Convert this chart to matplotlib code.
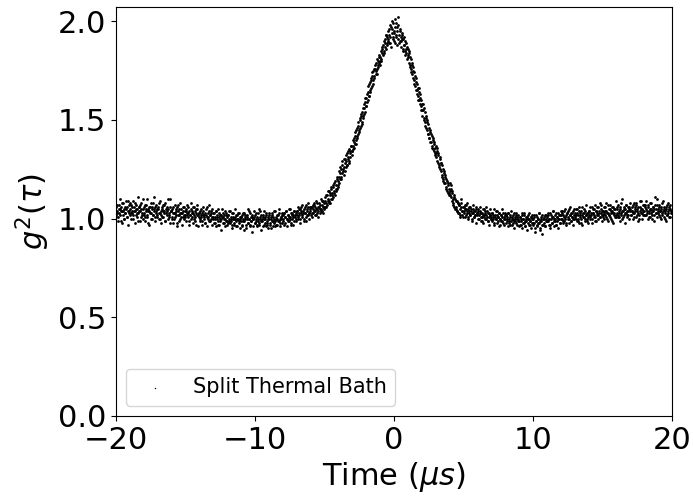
#!/usr/bin/env python3
"""Second-order correlation g2(tau) of a split thermal bath, scatter of measured points."""

import matplotlib
matplotlib.use("Agg")
import matplotlib.pyplot as plt
import numpy as np

T_START = -20.0   # us, first time bin
T_STEP = 0.05     # us, bin width (sweep B sits half a bin later)

# g2 values, in hundredths, one row per microsecond
# --- sweep A: bins at -20.00, -19.95, ... , 20.00
base_left = [
    106, 102, 104, 101, 107, 103, 105, 99, 104, 108, 102, 104, 100, 106, 103, 105, 101, 104, 109, 103,
    105, 102, 107, 103, 104, 100, 106, 104, 108, 102, 105, 103, 99, 106, 104, 107, 101, 105, 103, 110,
    103, 106, 101, 104, 107, 102, 105, 98, 104, 106, 103, 100, 105, 108, 102, 104, 101, 106, 103, 105,
    102, 105, 108, 103, 100, 104, 106, 101, 104, 103, 107, 99, 105, 102, 104, 110, 103, 101, 106, 104,
    104, 101, 103, 106, 100, 103, 105, 102, 98, 104, 107, 102, 103, 100, 105, 103, 101, 106, 102, 104,
    101, 104, 102, 107, 103, 99, 104, 102, 105, 101, 103, 106, 100, 102, 104, 97, 103, 105, 102, 101,
    103, 100, 102, 105, 99, 102, 104, 101, 103, 98, 102, 106, 100, 101, 104, 102, 99, 103, 101, 105,
    100, 103, 98, 101, 104, 100, 102, 97, 101, 103, 99, 102, 100, 105, 101, 98, 102, 100, 103, 99,
    101, 98, 102, 100, 104, 99, 101, 97, 100, 103, 98, 101, 100, 102, 96, 100, 103, 99, 101, 100,
    99, 102, 97, 100, 103, 99, 101, 95, 100, 102, 98, 100, 104, 97, 101, 99, 102, 96, 100, 101,
    102, 99, 100, 97, 103, 100, 98, 101, 104, 99, 100, 96, 102, 100, 98, 101, 103, 99, 97, 100,
    100, 103, 98, 101, 99, 102, 96, 100, 104, 99, 101, 97, 100, 102, 99, 103, 98, 101, 100, 102,
    102, 100, 103, 98, 101, 104, 100, 102, 99, 101, 105, 100, 97, 102, 103, 101, 99, 104, 102, 100,
    102, 104, 101, 105, 103, 100, 104, 106, 102, 103, 99, 105, 103, 107, 101, 104, 102, 106, 103, 105,
    104, 102, 106, 105, 103, 107, 104, 106, 102, 105, 108, 104, 106, 103, 107, 105, 109, 104, 106, 108,
]
rise = [
    105, 111, 108, 106, 112, 109, 114, 108, 113, 110, 116, 112, 111, 117, 113, 119, 115, 114, 121, 116,
    117, 124, 120, 126, 121, 123, 129, 125, 122, 130, 128, 126, 133, 127, 131, 135, 129, 134, 137, 132,
    134, 140, 136, 139, 144, 138, 145, 141, 143, 149, 144, 151, 147, 153, 149, 156, 152, 158, 154, 161,
    157, 163, 160, 167, 162, 169, 165, 171, 167, 174, 170, 176, 172, 178, 175, 173, 181, 177, 183, 179,
    178, 185, 181, 187, 183, 190, 184, 189, 186, 193, 188, 191, 195, 189, 198, 192, 187, 196, 191, 199,
]
fall = [
    194, 189, 201, 192, 197, 188, 202, 193, 190, 196, 187, 194, 191, 185, 192, 188, 183, 189, 186, 181,
    186, 179, 184, 177, 181, 174, 178, 171, 175, 168, 172, 165, 169, 163, 166, 160, 164, 158, 161, 155,
    158, 152, 155, 150, 154, 147, 151, 145, 149, 143, 146, 141, 144, 139, 142, 136, 140, 134, 138, 132,
    137, 131, 134, 128, 133, 126, 130, 124, 128, 121, 125, 119, 123, 118, 121, 115, 119, 113, 117, 112,
    118, 112, 115, 109, 113, 108, 112, 106, 110, 105, 109, 104, 108, 103, 107, 102, 106, 110, 104, 101,
]
base_right = [
    106, 103, 105, 102, 107, 104, 101, 105, 103, 106, 102, 104, 100, 105, 103, 101, 104, 102, 106, 103,
    102, 105, 100, 103, 104, 101, 103, 99, 102, 105, 101, 103, 100, 102, 104, 99, 103, 101, 102, 100,
    101, 103, 100, 102, 98, 101, 104, 100, 102, 99, 101, 103, 100, 97, 102, 101, 99, 103, 100, 102,
    100, 102, 99, 101, 103, 98, 100, 102, 99, 101, 97, 100, 103, 99, 100, 102, 98, 101, 99, 100,
    99, 101, 97, 100, 102, 98, 100, 103, 99, 96, 100, 101, 98, 102, 100, 97, 99, 101, 100, 98,
    100, 98, 102, 95, 99, 101, 97, 100, 103, 98, 94, 100, 99, 102, 97, 100, 101, 96, 99, 102,
    101, 99, 102, 100, 97, 103, 100, 98, 101, 104, 99, 100, 102, 97, 101, 99, 103, 100, 98, 102,
    102, 100, 103, 99, 101, 104, 100, 102, 98, 103, 101, 105, 100, 102, 99, 103, 101, 104, 100, 102,
    103, 100, 102, 105, 99, 102, 104, 101, 103, 98, 102, 106, 101, 103, 100, 104, 102, 99, 103, 101,
    102, 104, 101, 103, 106, 100, 103, 102, 105, 101, 104, 99, 103, 106, 102, 104, 101, 103, 107, 102,
    104, 101, 103, 106, 102, 104, 100, 103, 107, 102, 105, 101, 103, 104, 99, 106, 103, 102, 105, 101,
    103, 106, 102, 104, 101, 105, 108, 103, 100, 104, 106, 102, 105, 103, 107, 101, 104, 102, 106, 104,
    105, 102, 104, 107, 103, 101, 106, 104, 108, 102, 105, 103, 100, 106, 104, 109, 103, 105, 102, 107,
    104, 107, 102, 105, 103, 106, 101, 104, 108, 103, 105, 100, 106, 104, 102, 107, 103, 105, 110, 104,
    103, 106, 104, 101, 105, 108, 102, 104, 106, 103, 100, 105, 107, 102, 104, 106, 101, 105, 103, 104,
    104,
]
# --- sweep B: bins at -19.975, -19.925, ... , 19.975
b_base_left = [
    101, 107, 103, 99, 105, 110, 102, 106, 98, 104, 108, 100, 105, 103, 109, 101, 106, 97, 104, 107,
    108, 103, 100, 106, 102, 109, 104, 98, 105, 107, 101, 111, 103, 106, 99, 104, 108, 102, 105, 100,
    102, 107, 99, 105, 110, 101, 104, 106, 97, 103, 108, 100, 106, 102, 105, 111, 99, 104, 107, 101,
    106, 100, 103, 109, 102, 98, 105, 107, 101, 104, 99, 108, 103, 106, 100, 105, 102, 110, 98, 104,
    100, 105, 98, 103, 107, 101, 104, 96, 106, 102, 99, 105, 108, 101, 103, 97, 104, 106, 100, 102,
    105, 99, 103, 101, 106, 97, 102, 108, 100, 104, 98, 103, 106, 101, 99, 105, 102, 107, 96, 103,
    99, 104, 101, 97, 103, 106, 100, 102, 98, 105, 101, 96, 103, 107, 99, 102, 100, 104, 97, 101,
    103, 98, 100, 104, 96, 101, 99, 105, 97, 102, 100, 94, 101, 103, 98, 100, 104, 96, 102, 99,
    97, 102, 99, 104, 98, 100, 95, 103, 101, 97, 100, 105, 99, 96, 102, 100, 98, 103, 95, 101,
    101, 96, 103, 99, 94, 100, 102, 97, 101, 105, 98, 100, 96, 103, 99, 101, 93, 100, 104, 98,
    98, 103, 96, 101, 99, 105, 97, 100, 94, 102, 99, 101, 97, 104, 100, 96, 102, 98, 101, 95,
    102, 97, 100, 95, 103, 99, 101, 98, 104, 96, 100, 102, 97, 99, 105, 100, 96, 101, 98, 103,
    99, 103, 97, 101, 104, 100, 96, 102, 99, 105, 101, 98, 103, 100, 102, 97, 104, 101, 99, 103,
    104, 100, 106, 102, 98, 105, 103, 101, 107, 104, 100, 103, 106, 99, 105, 102, 108, 103, 100, 106,
    106, 103, 101, 107, 104, 108, 102, 105, 109, 103, 106, 101, 108, 105, 110, 104, 107, 103, 109, 106,
]
b_rise = [
    109, 106, 112, 107, 110, 114, 109, 112, 108, 115, 113, 110, 116, 114, 118, 112, 117, 120, 115, 119,
    121, 118, 123, 125, 120, 127, 124, 126, 130, 124, 129, 132, 127, 130, 134, 128, 133, 131, 137, 134,
    137, 135, 141, 138, 142, 140, 146, 142, 147, 145, 150, 146, 152, 148, 154, 151, 156, 153, 159, 157,
    161, 159, 164, 162, 168, 164, 170, 166, 172, 168, 175, 171, 176, 173, 179, 176, 180, 178, 182, 180,
    182, 180, 186, 184, 188, 185, 191, 187, 193, 189, 192, 190, 196, 193, 189, 197, 194, 200, 192, 195,
]
b_fall = [
    190, 197, 193, 199, 195, 191, 198, 189, 195, 192, 190, 193, 186, 191, 188, 185, 190, 184, 187, 183,
    182, 185, 178, 182, 176, 179, 173, 177, 170, 174, 167, 171, 165, 168, 162, 166, 160, 163, 157, 160,
    155, 158, 151, 156, 149, 152, 146, 150, 143, 148, 141, 145, 139, 143, 137, 141, 135, 139, 133, 136,
    133, 136, 129, 132, 127, 131, 125, 128, 122, 127, 120, 124, 118, 122, 116, 120, 114, 118, 113, 115,
    114, 117, 111, 114, 110, 107, 111, 105, 109, 106, 104, 108, 103, 107, 105, 101, 108, 104, 102, 106,
]
b_base_right = [
    104, 107, 101, 105, 103, 108, 100, 104, 106, 102, 105, 99, 103, 107, 101, 104, 102, 98, 105, 103,
    100, 104, 102, 106, 99, 103, 101, 105, 98, 102, 104, 100, 106, 101, 99, 103, 97, 102, 105, 100,
    103, 99, 101, 105, 97, 102, 100, 104, 98, 101, 103, 96, 100, 102, 99, 105, 98, 101, 97, 103,
    98, 102, 100, 96, 103, 99, 101, 97, 104, 100, 98, 102, 95, 101, 99, 103, 97, 100, 102, 96,
    101, 97, 99, 103, 95, 100, 98, 102, 96, 101, 99, 94, 100, 103, 97, 99, 101, 95, 102, 98,
    97, 101, 93, 99, 102, 96, 100, 98, 103, 95, 99, 101, 97, 92, 100, 98, 102, 96, 100, 99,
    99, 103, 97, 100, 95, 102, 98, 101, 104, 96, 100, 99, 103, 97, 101, 95, 100, 102, 98, 104,
    100, 104, 98, 102, 99, 105, 101, 97, 103, 100, 104, 98, 102, 106, 99, 101, 103, 97, 105, 100,
    101, 105, 99, 103, 100, 106, 98, 102, 104, 100, 97, 103, 101, 105, 99, 102, 107, 100, 103, 98,
    104, 100, 106, 102, 98, 105, 103, 101, 107, 99, 104, 102, 106, 100, 103, 108, 101, 105, 99, 104,
    102, 106, 100, 104, 108, 101, 103, 99, 105, 102, 107, 100, 104, 106, 98, 103, 105, 101, 109, 102,
    105, 101, 107, 103, 99, 106, 102, 104, 110, 101, 105, 103, 98, 107, 104, 102, 106, 100, 105, 108,
    102, 106, 104, 100, 108, 103, 105, 101, 107, 104, 99, 106, 102, 109, 103, 105, 100, 107, 104, 102,
    106, 102, 109, 104, 100, 107, 103, 105, 101, 108, 104, 102, 106, 99, 105, 111, 103, 107, 101, 105,
    102, 107, 104, 100, 106, 103, 109, 101, 105, 104, 99, 106, 102, 108, 103, 105, 101, 107, 104, 103,
]

X_TICKS = [-20, -10, 0, 10, 20]
Y_TICKS = [0.0, 0.5, 1.0, 1.5, 2.0]


def main():
    g2_a = np.array(base_left + rise + fall + base_right, dtype=float) / 100.0
    g2_b = np.array(b_base_left + b_rise + b_fall + b_base_right, dtype=float) / 100.0
    tau_a = T_START + T_STEP * np.arange(len(g2_a))
    tau_b = T_START + T_STEP * (np.arange(len(g2_b)) + 0.5)
    tau = np.concatenate([tau_a, tau_b])
    g2 = np.concatenate([g2_a, g2_b])

    fig = plt.figure(figsize=(6.93, 4.97), dpi=100)
    ax = fig.add_axes([0.167, 0.163, 0.803, 0.823])
    ax.scatter(tau, g2, s=4.0, c="black", marker="o", linewidths=0,
               label="Split Thermal Bath")

    ax.set_xlim(-20, 20)
    ax.set_ylim(0, 2.072)
    ax.set_xticks(X_TICKS)
    ax.set_yticks(Y_TICKS)
    ax.tick_params(labelsize=22)
    ax.set_xlabel(r"Time ($\mu s$)", fontsize=22)
    ax.set_ylabel(r"$g^2(\tau)$", fontsize=22)
    ax.legend(loc="lower left", fontsize=15, markerscale=0.5)

    fig.savefig("out.png", dpi=100)


if __name__ == "__main__":
    main()
